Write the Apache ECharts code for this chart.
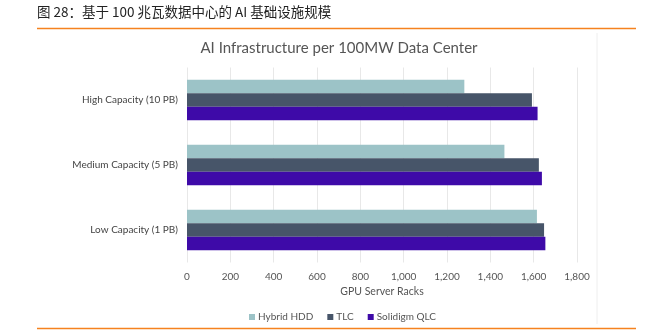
<!DOCTYPE html>
<html><head><meta charset="utf-8">
<script src="https://cdn.jsdelivr.net/npm/echarts@6/dist/echarts.min.js"></script>
<style>html,body{margin:0;padding:0;background:#fff}#c{width:654px;height:335px}</style>
</head><body><div id="c"></div>
<script>
const categories = ['Low Capacity (1 PB)', 'Medium Capacity (5 PB)', 'High Capacity (10 PB)'];
const hybridHDD = [1615, 1465, 1280];
const tlc = [1648, 1624, 1592];
const solidigmQLC = [1654, 1638, 1618];
const xTicks = [0, 200, 400, 600, 800, 1000, 1200, 1400, 1600, 1800];

const chart = echarts.init(document.getElementById('c'));
const colors = ['#9cc3c7', '#475569', '#3e0aa8'];
chart.setOption({
  animation: false,
  color: colors,
  title: {
    text: 'AI Infrastructure per 100MW Data Center',
    left: 334, top: 36, textAlign: 'center',
    textStyle: { fontFamily: 'Lato', fontSize: 15, fontWeight: 'normal', color: '#555' }
  },
  graphic: [
    { type: 'text', left: 37, top: 5, style: { text: '图 28：基于 100 兆瓦数据中心的 AI 基础设施规模', font: '13.5px "Noto Sans CJK SC"', fill: '#222' } },
    { type: 'line', shape: { x1: 37, y1: 28.5, x2: 636, y2: 28.5 }, style: { stroke: '#f5821f', lineWidth: 1.5 } },
    { type: 'line', shape: { x1: 37, y1: 328.5, x2: 636, y2: 328.5 }, style: { stroke: '#f5821f', lineWidth: 1.5 } },
    { type: 'line', shape: { x1: 597, y1: 33, x2: 597, y2: 324 }, style: { stroke: '#eeeeee', lineWidth: 1 } }
  ],
  legend: {
    bottom: 8, left: 244,
    itemWidth: 6, itemHeight: 6, itemGap: 14,
    icon: 'rect',
    textStyle: { fontFamily: 'Lato', fontSize: 10, color: '#555', padding: [0, 0, 0, -2] },
    data: ['Hybrid HDD', 'TLC', 'Solidigm QLC']
  },
  grid: { left: 187, right: 77, top: 67.5, bottom: 72.5, containLabel: false },
  xAxis: {
    type: 'value', min: 0, max: 1800, interval: 200,
    name: 'GPU Server Racks', nameLocation: 'middle', nameGap: 22,
    nameTextStyle: { fontFamily: 'Lato', fontSize: 10.5, color: '#555' },
    axisLine: { show: false }, axisTick: { show: false },
    axisLabel: { fontFamily: 'Lato', fontSize: 10, color: '#555', margin: 9,
      formatter: v => xTicks.includes(v) ? v.toLocaleString('en-US') : '' },
    splitLine: { lineStyle: { color: '#e8e8e8' } }
  },
  yAxis: {
    type: 'category', data: categories,
    axisLine: { show: false }, axisTick: { show: false },
    axisLabel: { fontFamily: 'Lato', fontSize: 10, color: '#444', margin: 9 }
  },
  series: [
    { name: 'Hybrid HDD', type: 'bar', data: hybridHDD, barGap: '0%', barCategoryGap: '38%', itemStyle: { color: colors[0] } },
    { name: 'TLC', type: 'bar', data: tlc, barGap: '0%', barCategoryGap: '38%', itemStyle: { color: colors[1] } },
    { name: 'Solidigm QLC', type: 'bar', data: solidigmQLC, barGap: '0%', barCategoryGap: '38%', itemStyle: { color: colors[2] } }
  ]
});
</script></body></html>
